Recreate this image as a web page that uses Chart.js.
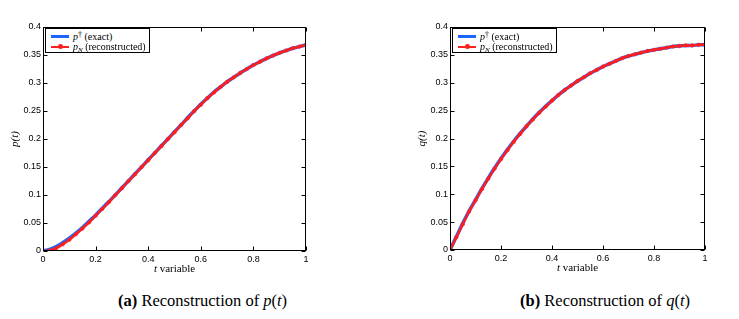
<!DOCTYPE html>
<html>
<head>
<meta charset="utf-8">
<script src="https://cdn.jsdelivr.net/npm/chart.js@4/dist/chart.umd.min.js"></script>
<style>
  html,body{margin:0;padding:0;background:#fff;}
  body{width:739px;height:319px;position:relative;overflow:hidden;}
  canvas{position:absolute;top:0;}
  .legend{position:absolute;background:#fff;border:1px solid #000;box-sizing:border-box;
    width:105px;height:25px;font-family:'Liberation Serif','DejaVu Serif',serif;font-size:10px;color:#000;z-index:5;}
  .row{position:absolute;left:0;height:11px;line-height:11px;white-space:nowrap;}
  .sw{position:absolute;left:5px;width:18px;}
  .sw.blue{height:3px;background:#1e64ff;top:4px;}
  .sw.red{height:1.5px;background:#ff2020;top:5px;}
  .dot{position:absolute;left:12px;top:3px;width:5px;height:5px;border-radius:50%;background:#ff2020;}
  .lt{position:absolute;left:27px;top:0;}
  .lt sup{font-size:8px;vertical-align:3px;line-height:0;}
  .lt sub{font-size:7px;vertical-align:-2px;line-height:0;font-style:italic;}
  .caption{position:absolute;top:293px;font-family:'Liberation Serif','Times New Roman',serif;font-size:16.5px;line-height:16.5px;color:#000;white-space:nowrap;}
</style>
</head>
<body>
<canvas id="cA" width="330" height="285" style="left:0px"></canvas>
<canvas id="cB" width="330" height="285" style="left:407px"></canvas>

<div class="legend" style="left:45px;top:28px;">
  <div class="row" style="top:2px;width:100%"><div class="sw blue"></div><span class="lt"><i>p</i><sup>†</sup> (exact)</span></div>
  <div class="row" style="top:12px;width:100%"><div class="sw red"></div><div class="dot"></div><span class="lt"><i>p</i><sub>N</sub> (reconstructed)</span></div>
</div>
<div class="legend" style="left:452px;top:28px;">
  <div class="row" style="top:2px;width:100%"><div class="sw blue"></div><span class="lt"><i>p</i><sup>†</sup> (exact)</span></div>
  <div class="row" style="top:12px;width:100%"><div class="sw red"></div><div class="dot"></div><span class="lt"><i>p</i><sub>N</sub> (reconstructed)</span></div>
</div>

<div class="caption" style="left:118px;"><b>(a)</b> Reconstruction of <i>p</i>(<i>t</i>)</div>
<div class="caption" style="left:520px;"><b>(b)</b> Reconstruction of <i>q</i>(<i>t</i>)</div>

<script>
// ---- data ----
const tValues = [0,0.025,0.05,0.075,0.1,0.125,0.15,0.175,0.2,0.225,0.25,0.275,0.3,0.325,0.35,0.375,0.4,0.425,0.45,0.475,0.5,0.525,0.55,0.575,0.6,0.625,0.65,0.675,0.7,0.725,0.75,0.775,0.8,0.825,0.85,0.875,0.9,0.925,0.95,0.975,1];
const pExact = [0,0.003,0.008,0.015,0.023,0.032,0.042,0.053,0.064,0.076,0.088,0.100,0.113,0.125,0.138,0.150,0.163,0.175,0.188,0.200,0.213,0.225,0.238,0.250,0.262,0.273,0.284,0.293,0.302,0.310,0.318,0.325,0.332,0.338,0.344,0.349,0.354,0.358,0.362,0.365,0.368];
const pRecon = [0,0.001,0.005,0.012,0.020,0.030,0.040,0.051,0.063,0.075,0.087,0.100,0.112,0.125,0.137,0.150,0.162,0.175,0.187,0.200,0.212,0.225,0.237,0.250,0.261,0.273,0.283,0.293,0.302,0.310,0.318,0.325,0.332,0.338,0.344,0.349,0.354,0.358,0.362,0.365,0.368];
const qExact = [0,0.024,0.048,0.070,0.090,0.110,0.129,0.147,0.164,0.180,0.195,0.209,0.222,0.235,0.247,0.258,0.268,0.278,0.287,0.295,0.303,0.310,0.317,0.323,0.329,0.334,0.339,0.344,0.348,0.351,0.354,0.357,0.359,0.361,0.363,0.365,0.366,0.367,0.367,0.368,0.368];
const qRecon = [0,0.023,0.046,0.069,0.089,0.109,0.128,0.146,0.163,0.179,0.194,0.208,0.222,0.234,0.246,0.257,0.268,0.278,0.287,0.295,0.303,0.310,0.317,0.323,0.329,0.334,0.339,0.344,0.348,0.351,0.354,0.357,0.359,0.361,0.363,0.365,0.366,0.367,0.367,0.368,0.368];
const xTicks = [0,0.2,0.4,0.6,0.8,1];
const yTicks = [0,0.05,0.1,0.15,0.2,0.25,0.3,0.35,0.4];

const fmt = v => String(Number(Number(v).toFixed(2)));

const boxPlugin = {
  id:'box',
  afterDraw(chart){
    const {ctx, chartArea:a, scales} = chart;
    ctx.save();
    ctx.strokeStyle = '#000';
    ctx.lineWidth = 1;
    const L = Math.round(a.left)+0.5, R = Math.round(a.right)-0.5, T = Math.round(a.top)+0.5, B = Math.round(a.bottom)-0.5;
    ctx.strokeRect(L, T, R-L, B-T);
    ctx.beginPath();
    xTicks.forEach(v=>{
      const x = Math.round(scales.x.getPixelForValue(v))+0.5;
      ctx.moveTo(x,B); ctx.lineTo(x,B-4);
      ctx.moveTo(x,T); ctx.lineTo(x,T+4);
    });
    yTicks.forEach(v=>{
      const y = Math.round(scales.y.getPixelForValue(v))+0.5;
      ctx.moveTo(L,y); ctx.lineTo(L+4,y);
      ctx.moveTo(R,y); ctx.lineTo(R-4,y);
    });
    ctx.stroke();
    // x axis title: italic t + " variable"
    const cx = (a.left+a.right)/2, cy = a.bottom + 21;
    ctx.fillStyle = '#000';
    ctx.textBaseline = 'alphabetic';
    const f1 = 'italic 11px "Liberation Serif", serif', f2 = '11px "Liberation Serif", serif';
    ctx.font = f1; const w1 = ctx.measureText('t').width;
    ctx.font = f2; const w2 = ctx.measureText(' variable').width;
    let x0 = cx - (w1+w2)/2;
    ctx.font = f1; ctx.fillText('t', x0, cy);
    ctx.font = f2; ctx.fillText(' variable', x0+w1, cy);
    ctx.restore();
  }
};

function makeChart(id, exact, recon, yTitle, padRight, xHeight){
  const ctx = document.getElementById(id).getContext('2d');
  return new Chart(ctx, {
    type:'line',
    data:{datasets:[
      {label:'recon', data: tValues.map((t,i)=>({x:t,y:recon[i]})), borderColor:'#ff1e1e', backgroundColor:'#ff1e1e',
        borderWidth:2.5, pointRadius:1.8, pointBorderWidth:0.5, pointBackgroundColor:'#ff1e1e', pointBorderColor:'#ff1e1e',
        tension:0.3, order:1, fill:false},
      {label:'exact', data: tValues.map((t,i)=>({x:t,y:exact[i]})), borderColor:'#1e64ff',
        borderWidth:3.5, pointRadius:0, tension:0.3, order:2, fill:false}
    ]},
    options:{
      responsive:false, animation:false, devicePixelRatio:1,
      layout:{padding:{left:0, top:27, right:padRight, bottom:0}},
      plugins:{legend:{display:false}, tooltip:{enabled:false}},
      scales:{
        x:{type:'linear', min:0, max:1,
          afterBuildTicks(s){ s.ticks = xTicks.map(v=>({value:v})); },
          ticks:{padding:3, color:'#000', font:{family:'"Liberation Sans", Arial, sans-serif', size:9}, callback:fmt, maxRotation:0},
          grid:{display:false, drawTicks:false}, border:{display:false},
          afterFit(s){ s.height = xHeight; }
        },
        y:{type:'linear', min:0, max:0.4,
          afterBuildTicks(s){ s.ticks = yTicks.map(v=>({value:v})); },
          ticks:{padding:2, color:'#000', font:{family:'"Liberation Sans", Arial, sans-serif', size:9}, callback:fmt},
          grid:{display:false, drawTicks:false}, border:{display:false},
          title:{display:true, text:yTitle, color:'#000', font:{family:'"Liberation Serif", serif', size:11, style:'italic'}, padding:{top:9, bottom:0}},
          afterFit(s){ s.width = 43; }
        }
      }
    },
    plugins:[boxPlugin]
  });
}

makeChart('cA', pExact, pRecon, 'p(t)', 24, 34);
makeChart('cB', qExact, qRecon, 'q(t)', 32, 35);
</script>
</body>
</html>
